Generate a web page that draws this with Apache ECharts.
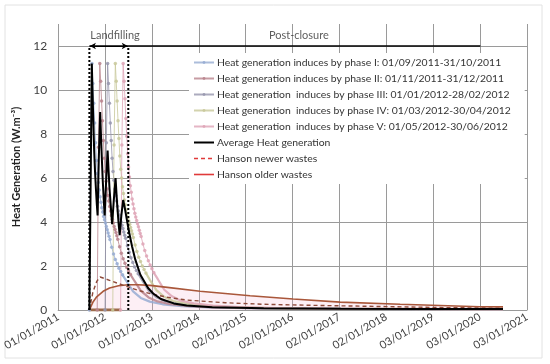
<!DOCTYPE html>
<html><head><meta charset="utf-8">
<script src="https://cdn.jsdelivr.net/npm/echarts@6/dist/echarts.min.js"></script>
<style>html,body{margin:0;padding:0;background:#fff}#c{width:550px;height:364px}</style>
</head><body><div id="c"></div>
<script>
// ---- x axis tick labels (one every 365 days from 01/01/2011) ----
const xTickLabels = ['01/01/2011','01/01/2012','01/01/2013','01/01/2014','02/01/2015','02/01/2016','02/01/2017','02/01/2018','03/01/2019','03/01/2020','03/01/2021'];

// ---- series names ----
const phaseNames = [
  'Heat generation induces by phase I: 01/09/2011-31/10/2011',
  'Heat generation induces by phase II: 01/11/2011-31/12/2011',
  'Heat generation  induces by phase III: 01/01/2012-28/02/2012',
  'Heat generation  induces by phase IV: 01/03/2012-30/04/2012',
  'Heat generation  induces by phase V: 01/05/2012-30/06/2012'
];
const avgName = 'Average Heat generation';
const newerName = 'Hanson newer wastes';
const olderName = 'Hanson older wastes';
const annotationTexts = ['Landfilling', 'Post-closure'];

// ---- phase curves (days since 01/01/2011) ----
const phaseStarts = [243, 304, 365, 425, 486];
const phaseOffsets = [0, 10, 20, 27, 34, 41, 48, 55, 62, 69, 76, 83, 90, 97, 104, 111, 118, 125, 132, 139, 146, 153, 160, 174, 188, 202, 216, 230, 244, 258];
const phaseIValues   = [0, 7.5, 11.2, 10.3, 9.4, 8.5, 7.6, 6.8, 6.2, 5.8, 5.45, 5.15, 4.9, 4.65, 4.45, 4.25, 4.1, 3.95, 3.8, 3.65, 3.5, 3.35, 3.2, 2.85, 2.55, 2.3, 2.1, 1.9, 1.75, 1.6];
const phaseIIValues  = [0, 7.4, 11.2, 10.4, 9.5, 8.6, 7.7, 6.9, 6.3, 5.85, 5.5, 5.2, 4.95, 4.7, 4.5, 4.3, 4.12, 3.96, 3.8, 3.66, 3.52, 3.37, 3.22, 2.88, 2.58, 2.33, 2.12, 1.93, 1.77, 1.62];
const phaseIIIValues = [0, 7.6, 11.2, 10.3, 9.4, 8.5, 7.7, 6.9, 6.3, 5.9, 5.5, 5.2, 4.95, 4.72, 4.5, 4.32, 4.15, 4.0, 3.85, 3.7, 3.55, 3.4, 3.26, 2.92, 2.62, 2.37, 2.16, 1.96, 1.8, 1.65];
const phaseIVValues  = [0, 7.5, 11.2, 10.4, 9.5, 8.6, 7.8, 7.0, 6.4, 6.0, 5.6, 5.3, 5.0, 4.78, 4.56, 4.37, 4.2, 4.04, 3.9, 3.75, 3.6, 3.45, 3.3, 2.96, 2.66, 2.4, 2.2, 2.0, 1.84, 1.68];
const phaseVValues   = [0, 7.5, 11.2, 10.4, 9.6, 8.7, 7.9, 7.1, 6.5, 6.05, 5.65, 5.35, 5.05, 4.82, 4.6, 4.4, 4.23, 4.07, 3.92, 3.78, 3.63, 3.48, 3.34, 3.0, 2.7, 2.45, 2.24, 2.04, 1.87, 1.7];
const phaseTailOffsets = [290, 340, 400, 470, 570, 720, 920, 1220, 1620, 2220, 2820];
const phaseITail   = [1.3, 0.85, 0.55, 0.38, 0.26, 0.18, 0.12, 0.08, 0.06, 0.045, 0.035];
const phaseIITail  = [1.32, 0.87, 0.57, 0.39, 0.27, 0.18, 0.12, 0.08, 0.06, 0.045, 0.035];
const phaseIIITail = [1.34, 0.88, 0.58, 0.4, 0.28, 0.19, 0.13, 0.085, 0.06, 0.045, 0.035];
const phaseIVTail  = [1.36, 0.9, 0.6, 0.41, 0.29, 0.19, 0.13, 0.085, 0.065, 0.05, 0.04];
const phaseVTail   = [1.4, 0.92, 0.62, 0.42, 0.3, 0.2, 0.13, 0.09, 0.065, 0.05, 0.04];
const curveEndDay = 3463;
const phaseEndValues = [0.03, 0.03, 0.03, 0.035, 0.035];

// ---- average heat generation ----
const avgDays   = [243, 262, 268, 274, 280, 287, 294, 301, 307, 316, 327, 333, 340, 347, 355, 362, 373, 385, 392, 400, 410, 420, 432, 447, 455, 463, 471, 479, 492, 506, 520, 535, 550, 575, 600, 640, 700, 740, 800, 900, 1000, 1200, 1600, 2200, 2800, 3463];
const avgValues = [0, 11.2, 9.8, 8.5, 7.3, 6.3, 5.5, 4.8, 4.3, 6.8, 9.0, 8.0, 6.9, 5.9, 5.0, 4.3, 5.8, 7.25, 6.4, 5.5, 4.7, 3.9, 4.9, 6.0, 5.2, 4.5, 3.9, 3.4, 4.3, 5.0, 4.6, 4.1, 3.6, 2.9, 2.3, 1.6, 1.0, 0.75, 0.5, 0.3, 0.2, 0.13, 0.08, 0.06, 0.05, 0.04];

// ---- Hanson curves ----
const newerDays   = [243, 270, 300, 327, 400, 470, 545, 620, 730, 850, 1000, 1300, 1600, 2000, 2500, 3000, 3463];
const newerValues = [0, 0.8, 1.3, 1.5, 1.35, 1.2, 1.05, 0.9, 0.72, 0.58, 0.45, 0.33, 0.26, 0.21, 0.16, 0.11, 0.08];
const olderDays   = [243, 270, 300, 350, 400, 470, 545, 620, 716, 850, 1105, 1300, 1494, 1829, 2195, 2662, 3284, 3463];
const olderValues = [0, 0.35, 0.6, 0.85, 1.0, 1.1, 1.15, 1.15, 1.12, 1.03, 0.85, 0.75, 0.65, 0.5, 0.36, 0.26, 0.15, 0.14];

// ---- landfilling / post-closure markers ----
const landfillStartDay = 243;   // 01/09/2011
const landfillEndDay = 546;     // 30/06/2012
const postClosureEndDay = 3287; // 01/01/2020
const periodLevel = 12;
const annotationDays = [443, 1874];
const annotationLevel = 12.5;
const zeroBaseDays = [243, 490];

const phaseColors = ['#97acd2', '#b9838c', '#9796ae', '#c8c89a', '#dea4b6'];
const phaseValueSets = [phaseIValues, phaseIIValues, phaseIIIValues, phaseIVValues, phaseVValues];
const phaseTailSets = [phaseITail, phaseIITail, phaseIIITail, phaseIVTail, phaseVTail];

const series = [];
series.push({
  name: 'haze', type: 'line', symbol: 'none', silent: true, z: 1,
  data: olderDays.map((d, i) => [d, olderValues[i]]),
  lineStyle: { width: 0 },
  areaStyle: { color: 'rgba(245,175,205,0.28)' }
});
series.push({
  name: 'zeroBase', type: 'line', symbol: 'none', silent: true, z: 3,
  data: zeroBaseDays.map(d => [d, 0]),
  lineStyle: { color: '#9c6b4a', width: 3 }
});
phaseNames.forEach((nm, k) => {
  const s = phaseStarts[k];
  const vals = phaseValueSets[k];
  const main = phaseOffsets.map((o, i) => [s + o, vals[i]]);
  const tail = [main[main.length - 1]].concat(
    phaseTailOffsets.map((o, i) => [s + o, phaseTailSets[k][i]]),
    [[curveEndDay, phaseEndValues[k]]]
  );
  series.push({
    name: nm, type: 'line', data: main, z: 4,
    symbol: 'circle', symbolSize: 3.5, showAllSymbol: true,
    itemStyle: { color: phaseColors[k], opacity: 0.85 },
    lineStyle: { color: phaseColors[k], width: 1, opacity: 0.8 }
  });
  series.push({
    name: nm, type: 'line', data: tail, z: 4, symbol: 'none',
    itemStyle: { color: phaseColors[k] },
    lineStyle: { color: phaseColors[k], width: 2.2, opacity: 0.85 }
  });
});
series.push({
  name: olderName, type: 'line', symbol: 'none', z: 5,
  data: olderDays.map((d, i) => [d, olderValues[i]]),
  itemStyle: { color: '#a9573a' },
  lineStyle: { color: '#a9573a', width: 1.6 }
});
series.push({
  name: newerName, type: 'line', symbol: 'none', z: 5,
  data: newerDays.map((d, i) => [d, newerValues[i]]),
  itemStyle: { color: '#8e4a3a' },
  lineStyle: { color: '#8e4a3a', width: 1.4, type: [4, 3] }
});
series.push({
  name: avgName, type: 'line', symbol: 'none', z: 6,
  data: avgDays.map((d, i) => [d, avgValues[i]]),
  itemStyle: { color: '#000' },
  lineStyle: { color: '#000', width: 2 }
});
[landfillStartDay, landfillEndDay].forEach((d, i) => {
  series.push({
    name: 'bound' + i, type: 'line', symbol: 'none', silent: true, z: 7,
    data: [[d, 0], [d, periodLevel]],
    lineStyle: { color: '#000', width: 2, type: [2, 2] }
  });
});
series.push({
  name: 'period', type: 'line', symbol: 'none', silent: true, z: 7,
  data: [[landfillStartDay, periodLevel], [postClosureEndDay, periodLevel]],
  lineStyle: { color: '#000', width: 1.5 },
  markLine: {
    silent: true, symbol: ['arrow', 'arrow'], symbolSize: [5, 6],
    lineStyle: { color: '#000', width: 1, type: 'solid' }, label: { show: false },
    data: [[{ coord: [landfillStartDay + 4, periodLevel] }, { coord: [landfillEndDay - 4, periodLevel] }]]
  }
});
series.push({
  name: 'notes', type: 'scatter', silent: true, z: 8, symbolSize: 1,
  itemStyle: { color: 'rgba(0,0,0,0)' },
  data: annotationDays.map((d, i) => [d, annotationLevel, annotationTexts[i]]),
  label: { show: true, position: 'inside', formatter: p => p.data[2],
           fontFamily: 'Lato', fontSize: 11, color: '#333' }
});

const noSymbol = { color: 'rgba(0,0,0,0)', borderColor: 'rgba(0,0,0,0)', borderWidth: 0, opacity: 0 };
const legendData = phaseNames.map(n => ({ name: n })).concat([
  { name: avgName, itemStyle: noSymbol, lineStyle: { color: '#000', width: 2 } },
  { name: newerName, itemStyle: noSymbol, lineStyle: { color: '#e03a3a', width: 1.4 } },
  { name: olderName, itemStyle: noSymbol, lineStyle: { color: '#e03a3a', width: 1.6 } }
]);

const chart = echarts.init(document.getElementById('c'), null, { renderer: 'canvas' });
chart.setOption({
  animation: false,
  backgroundColor: '#fff',
  graphic: [{ type: 'rect', shape: { x: 5, y: 5, width: 537, height: 353 },
              style: { fill: 'none', stroke: '#e2e2e2', lineWidth: 1 }, silent: true }],
  grid: { left: 58, right: 23, top: 24, bottom: 54, containLabel: false },
  legend: {
    orient: 'vertical', left: 189, top: 53,
    itemWidth: 20, itemHeight: 3.5, itemGap: 3,
    backgroundColor: '#fff', padding: [3, 14, 3, 4],
    textStyle: { fontFamily: 'Lato', fontSize: 10.4, color: '#333', lineHeight: 13, padding: [0, 0, 0, -2] },
    data: legendData
  },
  xAxis: {
    type: 'value', min: 0, max: 3650, interval: 365,
    axisLine: { show: true, lineStyle: { color: '#999' } },
    axisTick: { show: false },
    splitLine: { show: true, lineStyle: { color: '#9a9a9a', width: 1 } },
    axisLabel: { rotate: 30, margin: 6, fontFamily: 'Lato', fontSize: 11, color: '#404040',
                 formatter: v => xTickLabels[Math.round(v / 365)] }
  },
  yAxis: {
    type: 'value', min: 0, max: 13, interval: 2,
    name: 'Heat Generation (W.m\u207B\u00B3)', nameLocation: 'middle', nameGap: 36,
    nameTextStyle: { fontFamily: 'Lato', fontSize: 11, fontWeight: 'bold', color: '#222' },
    axisLine: { show: false }, axisTick: { show: false },
    splitLine: { show: true, showMaxLine: false, lineStyle: { color: '#9a9a9a', width: 1 } },
    axisLabel: { showMaxLabel: false, margin: 11, fontFamily: 'Lato', fontSize: 12, color: '#404040' }
  },
  series: series
});
</script></body></html>
